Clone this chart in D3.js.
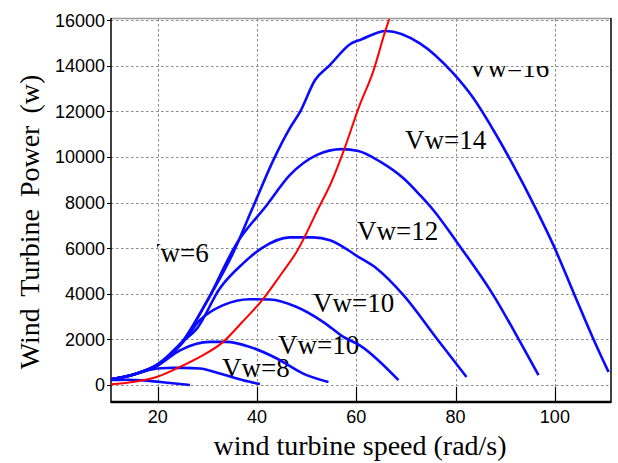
<!DOCTYPE html>
<html>
<head>
<meta charset="utf-8">
<script src="https://cdn.jsdelivr.net/npm/d3@7/dist/d3.min.js"></script>
<style>
  body { margin: 0; background: #fff; }
  svg { display: block; }
</style>
</head>
<body>
<svg id="chart" width="618" height="463"></svg>
<script>
// power curves, [rotor speed (rad/s), power (w)]
var vw4 = [[10.6, 220], [14, 230], [17.1, 200], [22.5, 90], [26.5, 0]];
var vw6 = [[10.6, 250], [15, 450], [18, 650], [21.8, 745], [25.2, 750], [28.5, 720],
	[32.5, 500], [37.2, 206], [40.6, 40]];
var vw8 = [[10.6, 250], [15, 450], [20, 850], [24.5, 1520], [30.5, 1890], [33.9, 1890],
	[38.6, 1670], [44, 1160], [49.3, 500], [54.4, 130]];
var vw10 = [[10.6, 250], [15, 450], [20, 880], [25, 1850], [28.5, 2840], [33.2, 3500],
	[38.6, 3760], [42.6, 3750], [48, 3420], [53.3, 2770], [57.4, 2110], [60.7, 1740], [68.5, 210]];
var vw12 = [[10.6, 250], [15, 450], [20, 890], [25, 1900], [27.9, 2470], [32.5, 4230],
	[37.2, 5330], [40.9, 5990], [46.6, 6470], [51.3, 6470], [54.7, 6350], [60.4, 5620],
	[64.1, 5110], [69.5, 3940], [76.2, 2040], [82.2, 350]];
var vw14 = [[10.6, 250], [15, 450], [20, 900], [25, 1900], [30, 3700], [35.9, 6200],
	[42, 7890], [46.6, 9200], [52, 10080], [57.1, 10340], [60.4, 10260], [64.8, 9790],
	[69.5, 9060], [72.8, 8330], [75.5, 7670], [80.2, 6280], [87.6, 3940], [93, 1890], [96.7, 430]];
var vw16 = [[10.6, 250], [15, 450], [20, 900], [25, 1900], [30, 3700], [35, 5700],
	[39, 7700], [43.3, 9860], [46.6, 11250], [48.7, 11980], [51.7, 13370], [54.7, 14030],
	[59, 14980], [61, 15150], [66, 15520], [72.8, 14980], [79.5, 13670], [83.6, 12570],
	[87.6, 11180], [91.6, 9640], [96, 7800], [99.7, 6130], [103.7, 4080], [107.7, 2040], [110.8, 570]];
// optimum power line
var optimum = [[10.6, 30], [15, 130], [19.8, 350], [24.5, 790], [28.5, 1230], [33.2, 1890],
	[37, 2750], [41.3, 3790], [45, 4900], [48, 5840], [52.5, 7800], [55, 8900],
	[57.4, 10230], [60.7, 12280], [63.4, 13740], [65.8, 15490], [66.8, 16150]];

var curves = [vw4, vw6, vw8, vw10, vw12, vw14, vw16];
var curveLabels = ["Vw=16", "Vw=14", "Vw=12", "Vw=10", "Vw=10", "Vw=8", "Vw=6"];
var xTicks = [20, 40, 60, 80, 100];
var yTicks = [0, 2000, 4000, 6000, 8000, 10000, 12000, 14000, 16000];

var svg = d3.select("#chart");
var plotL = 111, plotR = 611, plotT = 19, plotB = 402;

var xScale = d3.scaleLinear().domain([10.6, 111.3]).range([plotL, plotR]);
var yScale = d3.scaleLinear().domain([-746, 16045]).range([plotB, plotT]);

var defs = svg.append("defs");
defs.append("clipPath")
	.attr("id", "plotClip")
	.append("rect")
	.attr("x", plotL).attr("y", plotT)
	.attr("width", plotR - plotL).attr("height", plotB - plotT);

// grid
var grid = svg.append("g").attr("class", "grid")
	.attr("stroke", "#8a8a8a")
	.attr("stroke-width", 1)
	.attr("stroke-dasharray", "2.5,2.5");
grid.selectAll(".vgrid").data(xTicks).enter().append("line")
	.attr("x1", d => Math.round(xScale(d)) + 0.5)
	.attr("x2", d => Math.round(xScale(d)) + 0.5)
	.attr("y1", plotT).attr("y2", plotB);
grid.selectAll(".hgrid").data(yTicks).enter().append("line")
	.attr("x1", plotL).attr("x2", plotR)
	.attr("y1", d => Math.round(yScale(d)) + 0.5)
	.attr("y2", d => Math.round(yScale(d)) + 0.5);

// x ticks, drawn inward from the bottom edge
svg.append("g").selectAll("line").data(xTicks).enter().append("line")
	.attr("x1", d => Math.round(xScale(d)) + 0.5)
	.attr("x2", d => Math.round(xScale(d)) + 0.5)
	.attr("y1", plotB).attr("y2", plotB - 15)
	.attr("stroke", "#000").attr("stroke-width", 1.2);

// y ticks
svg.append("g").selectAll("line").data(yTicks).enter().append("line")
	.attr("x1", plotL - 4).attr("x2", plotL)
	.attr("y1", d => Math.round(yScale(d)) + 0.5)
	.attr("y2", d => Math.round(yScale(d)) + 0.5)
	.attr("stroke", "#000").attr("stroke-width", 1);

// frame
svg.append("line").attr("x1", plotL).attr("x2", plotR).attr("y1", plotT - 0.5).attr("y2", plotT - 0.5)
	.attr("stroke", "#999").attr("stroke-width", 1.5);
svg.append("line").attr("x1", plotL).attr("x2", plotL).attr("y1", plotT - 1).attr("y2", plotB + 1)
	.attr("stroke", "#000").attr("stroke-width", 1.5);
svg.append("line").attr("x1", plotR).attr("x2", plotR).attr("y1", plotT - 1).attr("y2", plotB + 1)
	.attr("stroke", "#000").attr("stroke-width", 1.5);
svg.append("line").attr("x1", plotL).attr("x2", plotR).attr("y1", plotB).attr("y2", plotB)
	.attr("stroke", "#000").attr("stroke-width", 2.5);

// tick labels
svg.append("g").selectAll("text").data(xTicks).enter().append("text")
	.attr("x", d => xScale(d))
	.attr("y", 423)
	.attr("text-anchor", "middle")
	.style("font-family", "Liberation Sans, Arial, sans-serif")
	.style("font-size", "18px")
	.text(d => d);
svg.append("g").selectAll("text").data(yTicks).enter().append("text")
	.attr("x", 105)
	.attr("y", d => yScale(d) + 6.5)
	.attr("text-anchor", "end")
	.style("font-family", "Liberation Sans, Arial, sans-serif")
	.style("font-size", "18px")
	.text(d => d);

// axis titles
svg.append("text")
	.attr("x", 360).attr("y", 455)
	.attr("text-anchor", "middle")
	.style("font-family", "Liberation Serif, Times New Roman, serif")
	.style("font-size", "28px")
	.text("wind turbine speed (rad/s)");
svg.append("text")
	.attr("transform", "translate(39,222) rotate(-90)")
	.attr("text-anchor", "middle")
	.style("font-family", "Liberation Serif, Times New Roman, serif")
	.style("font-size", "28px")
	.style("word-spacing", "5px")
	.text("Wind Turbine Power (w)");

// curve labels
var labelPos = [[468, 77], [405, 149], [357, 240], [313, 312], [278, 354], [222, 377], [141, 262]];
var labelClips = [[plotL, 66, plotR - plotL, 40], null, null, null, null, null, [157, 230, 100, 40]];
labelClips.forEach(function(c, i){
	if (!c) return;
	defs.append("clipPath").attr("id", "labelClip" + i)
		.append("rect").attr("x", c[0]).attr("y", c[1]).attr("width", c[2]).attr("height", c[3]);
});
svg.append("g").selectAll("text").data(curveLabels).enter().append("text")
	.attr("x", (d, i) => labelPos[i][0])
	.attr("y", (d, i) => labelPos[i][1])
	.attr("clip-path", (d, i) => labelClips[i] ? "url(#labelClip" + i + ")" : null)
	.style("font-family", "Liberation Serif, Times New Roman, serif")
	.style("font-size", "27px")
	.text(d => d);

// lines
var line = d3.line()
	.x(d => xScale(d[0]))
	.y(d => yScale(d[1]))
	.curve(d3.curveMonotoneX);

var plot = svg.append("g").attr("clip-path", "url(#plotClip)");
plot.selectAll(".power").data(curves).enter().append("path")
	.attr("class", "power")
	.attr("d", line)
	.attr("fill", "none")
	.attr("stroke", "#0a0aff")
	.attr("stroke-width", 2.6)
	.attr("stroke-linejoin", "round");

plot.append("path")
	.attr("d", line(optimum))
	.attr("fill", "none")
	.attr("stroke", "#ff0000")
	.attr("stroke-width", 2);
</script>
</body>
</html>
